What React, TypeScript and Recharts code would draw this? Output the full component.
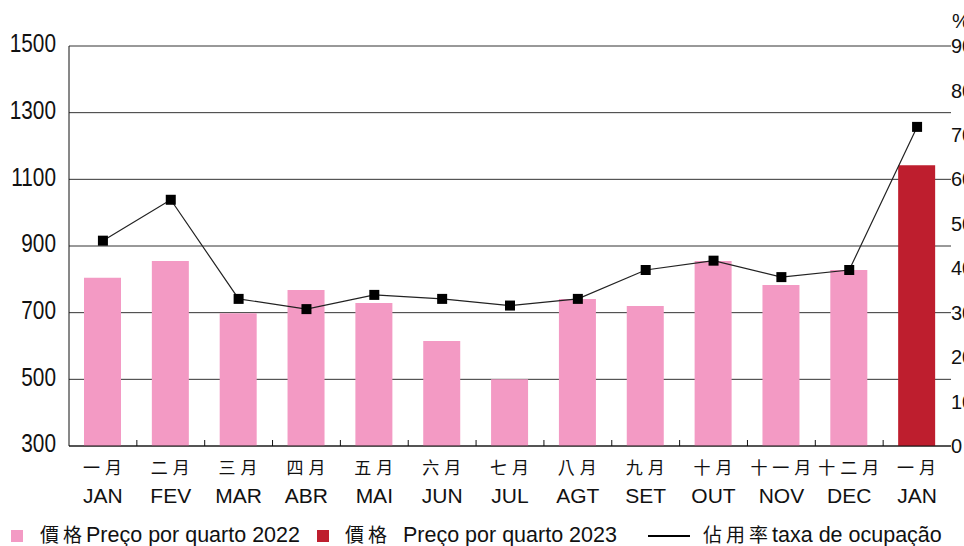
import {ComposedChart, Bar, Line, XAxis, YAxis, CartesianGrid, Cell, Label} from 'recharts';

const monthsZh = ['一月', '二月', '三月', '四月', '五月', '六月', '七月', '八月', '九月', '十月', '十一月', '十二月', '一月'];
const monthsPt = ['JAN', 'FEV', 'MAR', 'ABR', 'MAI', 'JUN', 'JUL', 'AGT', 'SET', 'OUT', 'NOV', 'DEC', 'JAN'];
const price2022 = [805, 855, 698, 768, 729, 615, 500, 741, 720, 855, 783, 828, null];
const price2023 = [null, null, null, null, null, null, null, null, null, null, null, null, 1142];
const occupancy = [46.2, 55.4, 33.1, 30.8, 34.0, 33.1, 31.6, 33.1, 39.6, 41.7, 38.0, 39.6, 71.8];
const priceTicks = [300, 500, 700, 900, 1100, 1300, 1500];
const pctTicks = [0, 10, 20, 30, 40, 50, 60, 70, 80, 90];

const PINK = '#F39AC4';
const RED = '#BE1E2E';
const LATIN = "'Liberation Sans', Arial, sans-serif";
const CJK = "'Noto Sans CJK TC', 'Noto Sans CJK SC', sans-serif";

const data = monthsPt.map((m, i) => ({
    key: i,
    zh: monthsZh[i],
    pt: m,
    price: price2022[i] ?? price2023[i],
    is2023: price2023[i] != null,
    occ: occupancy[i],
}));

const MonthTick = (props: any) => {
    const {x, y, payload, index} = props;
    const off = payload.offset || 0;
    const d = data[index];
    return (
        <g>
            {index > 0 && <line x1={x - off} x2={x - off} y1={y} y2={y - 6} stroke="#111" strokeWidth={1}/>}
            <text x={x + 2} y={y + 28} textAnchor="middle" fontFamily={CJK} fontSize={17} letterSpacing={5} fill="#111">{d.zh}</text>
            <text x={x} y={y + 57} textAnchor="middle" fontFamily={LATIN} fontSize={21} fill="#111">{d.pt}</text>
        </g>
    );
};

// narrow digits like the original's condensed face
const PriceTick = (props: any) => {
    const {x, y, payload} = props;
    return (
        <text transform={`translate(${x},${y - 3}) scale(0.8,1)`} textAnchor="end" dy="0.355em"
              fontFamily={LATIN} fontSize={26} fill="#111">{payload.value}</text>
    );
};

const SquareDot = (props: any) => {
    const {cx, cy, index} = props;
    return <rect key={`d-${index}`} x={cx - 5} y={cy - 5} width={10} height={10} fill="#000"/>;
};

const zhStyle = {fontFamily: CJK, fontSize: 19, letterSpacing: 4};

const LegendRow = () => (
    <div style={{position: 'absolute', left: 0, top: 522, width: 964, height: 24, fontFamily: LATIN, fontSize: 21.5, color: '#111', whiteSpace: 'nowrap', lineHeight: '24px'}}>
        <div style={{position: 'absolute', left: 11, top: 8, width: 12, height: 12, background: PINK}}/>
        <div style={{position: 'absolute', left: 40, top: 0}}>
            <span style={zhStyle}>價格</span>Preço por quarto 2022
        </div>
        <div style={{position: 'absolute', left: 317, top: 8, width: 12, height: 12, background: RED}}/>
        <div style={{position: 'absolute', left: 345, top: 0}}>
            <span style={zhStyle}>價格</span>&nbsp; Preço por quarto 2023
        </div>
        <div style={{position: 'absolute', left: 648, top: 13, width: 42, height: 2, background: '#000'}}/>
        <div style={{position: 'absolute', left: 703, top: 0}}>
            <span style={zhStyle}>佔用率</span>taxa de ocupação
        </div>
    </div>
);

export default function App() {
    return (
        <div style={{position: 'fixed', left: 0, top: 0, width: 964, height: 546, overflow: 'hidden', background: '#fff'}}>
            <ComposedChart
                width={1000}
                height={546}
                data={data}
                margin={{top: 46, right: 0, bottom: 0, left: 0}}
                barSize={37}
            >
                <CartesianGrid vertical={false} stroke="#333" strokeWidth={1} yAxisId="left"/>
                <XAxis
                    dataKey="key"
                    height={100}
                    axisLine={{stroke: '#111', strokeWidth: 1}}
                    tickLine={false}
                    tickSize={0}
                    tickMargin={0}
                    interval={0}
                    tick={<MonthTick/>}
                />
                <YAxis
                    yAxisId="left"
                    width={69}
                    domain={[300, 1500]}
                    ticks={priceTicks}
                    allowDataOverflow
                    axisLine={{stroke: '#111', strokeWidth: 1}}
                    tickLine={false}
                    tickSize={0}
                    tickMargin={13}
                    tick={<PriceTick/>}
                />
                <YAxis
                    yAxisId="right"
                    orientation="right"
                    width={49}
                    domain={[0, 90]}
                    ticks={pctTicks}
                    axisLine={false}
                    tickLine={false}
                    tickSize={0}
                    tickMargin={0}
                    tick={{fill: '#111', fontSize: 20, fontFamily: LATIN}}
                >
                    <Label
                        content={({viewBox}: any) => (
                            <text x={viewBox.x + 1} y={viewBox.y - 18} fontSize={20} fontFamily={LATIN} fill="#111">%</text>
                        )}
                    />
                </YAxis>
                <Bar yAxisId="left" dataKey="price" isAnimationActive={false}>
                    {data.map((d, i) => (
                        <Cell key={`c-${i}`} fill={d.is2023 ? RED : PINK}/>
                    ))}
                </Bar>
                <Line
                    yAxisId="right"
                    dataKey="occ"
                    type="linear"
                    stroke="#222"
                    strokeWidth={1.2}
                    dot={<SquareDot/>}
                    activeDot={false}
                    isAnimationActive={false}
                />
            </ComposedChart>
            <LegendRow/>
        </div>
    );
}
